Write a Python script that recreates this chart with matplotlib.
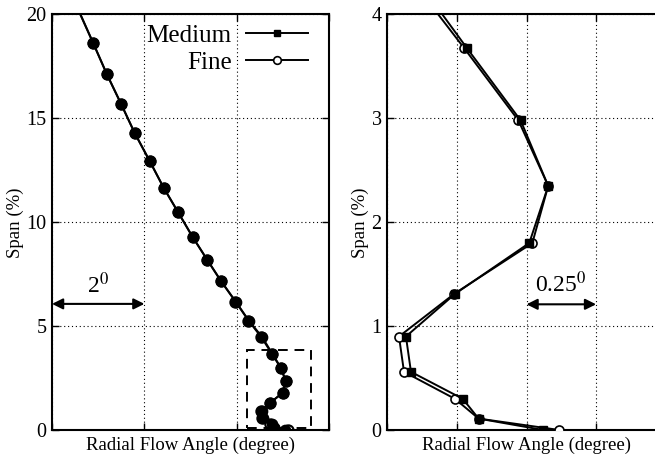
import matplotlib
matplotlib.use('Agg')
import matplotlib.pyplot as plt
from matplotlib.patches import Rectangle
import numpy as np

plt.rcParams['font.family'] = 'serif'
plt.rcParams['font.serif'] = ['Liberation Serif', 'DejaVu Serif']
plt.rcParams['mathtext.fontset'] = 'stix'

# span (%) and radial flow angle (degree, arbitrary origin)
span = [21.5, 18.62, 17.12, 15.68, 14.30, 12.95, 11.66, 10.47, 9.29, 8.19, 7.15,
        6.18, 5.27, 4.47, 3.68, 2.98, 2.35, 1.80, 1.31, 0.90, 0.56, 0.30, 0.11, 0.0]
medium = [0.318, 0.894, 1.190, 1.500, 1.790, 2.115, 2.418, 2.734, 3.045, 3.361, 3.665,
          3.976, 4.258, 4.550, 4.765, 4.959, 5.058, 4.990, 4.723, 4.547, 4.565, 4.751,
          4.808, 5.040]
fine = [0.310, 0.890, 1.186, 1.496, 1.786, 2.111, 2.414, 2.730, 3.041, 3.357, 3.660,
        3.970, 4.250, 4.528, 4.755, 4.951, 5.058, 5.001, 4.720, 4.522, 4.540, 4.723,
        4.808, 5.098]

left_xlim = (0.0, 6.0)
right_xlim = (4.48, 5.48)
zoom_box = (4.214, 0.08, 5.606, 3.86)

fig = plt.figure(figsize=(6.55, 4.58), dpi=100)
ax1 = fig.add_axes([52/655, 28/458, 277.3/655, 415.5/458])
ax2 = fig.add_axes([387.3/655, 28/458, 278.4/655, 415.5/458])

for ax in (ax1, ax2):
  for s in ax.spines.values():
    s.set_linewidth(1.5)
  ax.tick_params(direction='in', top=True, right=True, length=5, width=1,
                 labelsize=14.5, pad=4)
  ax.grid(True, color='black', linestyle=(0, (1, 2.5)), linewidth=0.8)
  ax.set_xlabel('Radial Flow Angle (degree)', fontsize=13.5, labelpad=1)
  ax.set_ylabel('Span (%)', fontsize=13.5, labelpad=2)

# left panel: whole span
ax1.plot(fine, span, '-', color='black', lw=1.4, marker='o', ms=7.4,
         mfc='none', mec='black', mew=1.5, zorder=3)
ax1.plot(medium, span, '-', color='black', lw=1.4, marker='o', ms=7.4,
         mfc='black', mec='black', zorder=4)
ax1.set_xlim(*left_xlim)
ax1.set_ylim(0, 20)
ax1.set_xticks([0, 2, 4, 6])
ax1.set_xticklabels([])
ax1.set_yticks([0, 5, 10, 15, 20])
x0, y0, x1, y1 = zoom_box
ax1.add_patch(Rectangle((x0, y0), x1 - x0, y1 - y0, fill=False, ec='black',
                        lw=1.4, ls=(0, (5, 3.5)), zorder=5))

# legend with marker after text
h_med, = ax1.plot([], [], '-', color='black', lw=1.4, marker='s', ms=5,
                  mfc='black', mec='black')
h_fine, = ax1.plot([], [], '-', color='black', lw=1.4, marker='o', ms=5.5,
                   mfc='white', mec='black', mew=1.2)
ax1.legend([h_med, h_fine], ['Medium', 'Fine'], loc='upper right',
           bbox_to_anchor=(308/655, 1 - 24/458), bbox_transform=fig.transFigure,
           frameon=False, markerfirst=False, fontsize=18, handlelength=2.5,
           handletextpad=0.55, labelspacing=0.2, borderpad=0, borderaxespad=0)

ax1.annotate('', xy=(0, 6.07), xytext=(2, 6.07),
             arrowprops=dict(arrowstyle='<|-|>', color='black', lw=1.5,
                             mutation_scale=16, shrinkA=0, shrinkB=0))
ax1.text(1.0, 6.95, r'2$^{0}$', ha='center', va='center', fontsize=17)

# right panel: near the hub
ax2.plot(fine, span, '-', color='black', lw=1.4, marker='o', ms=6.5,
         mfc='white', mec='black', mew=1.2, zorder=3)
ax2.plot(medium, span, '-', color='black', lw=1.4, marker='s', ms=5.6,
         mfc='black', mec='black', zorder=4)
ax2.set_xlim(*right_xlim)
ax2.set_ylim(0, 4)
ax2.set_xticks(np.arange(4.48, 5.49, 0.25))
ax2.set_xticklabels([])
ax2.set_yticks([0, 1, 2, 3, 4])

ax2.annotate('', xy=(4.98, 1.21), xytext=(5.23, 1.21),
             arrowprops=dict(arrowstyle='<|-|>', color='black', lw=1.5,
                             mutation_scale=16, shrinkA=0, shrinkB=0))
ax2.text(5.105, 1.40, r'0.25$^{0}$', ha='center', va='center', fontsize=17)

fig.savefig('out.png', dpi=100)
